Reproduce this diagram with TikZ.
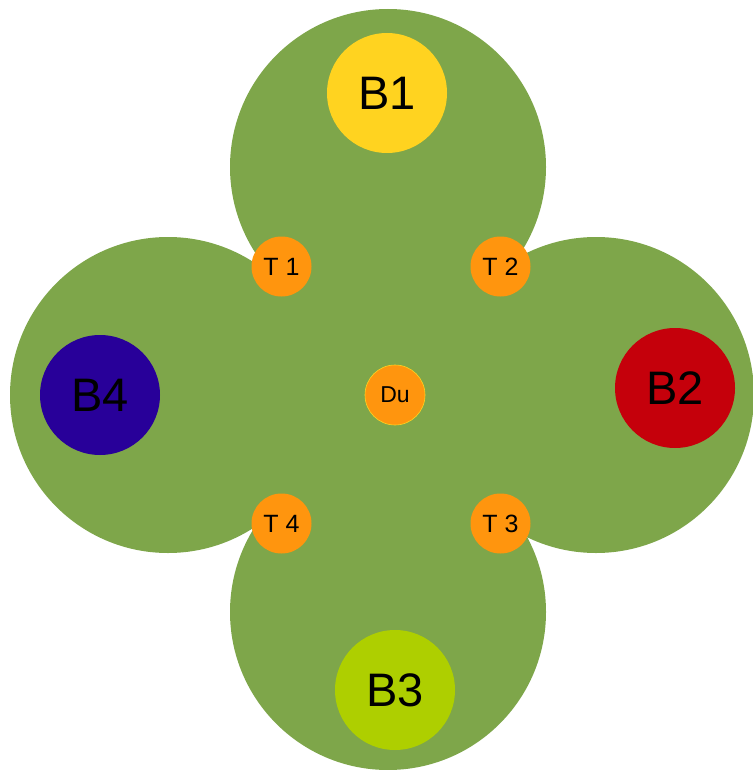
\documentclass[tikz,border=0pt]{standalone}
\usepackage{fontspec}
\setmainfont{Liberation Sans}
\definecolor{leaf}{HTML}{7EA64A}
\definecolor{bone}{HTML}{FFD320}
\definecolor{btwo}{HTML}{C5000B}
\definecolor{bthree}{HTML}{AECF00}
\definecolor{bfour}{HTML}{280099}
\definecolor{tor}{HTML}{FF950E}
\begin{document}
\begin{tikzpicture}[x=1pt,y=-1pt,
  lobe/.style={circle,fill=leaf,minimum size=316pt,inner sep=0pt},
  bnode/.style={circle,minimum size=120pt,inner sep=0pt,font=\fontsize{47}{47}\selectfont},
  tnode/.style={circle,fill=tor,minimum size=60pt,inner sep=0pt,font=\fontsize{25}{25}\selectfont}]
\useasboundingbox (0,0) rectangle (752,770);
\node[lobe] (lt) at (388,167) {};
\node[lobe] (lr) at (596,395) {};
\node[lobe] (lb) at (388,612) {};
\node[lobe] (ll) at (168,395) {};
\fill[leaf] (281,266) rectangle (501,524);
\node[bnode,fill=bone] (b1) at (387,93) {B1};
\node[bnode,fill=btwo] (b2) at (675,388) {B2};
\node[bnode,fill=bthree] (b3) at (395,690) {B3};
\node[bnode,fill=bfour] (b4) at (100,395) {B4};
\node[tnode] (t1) at (281.5,266.5) {T 1};
\node[tnode] (t2) at (500.5,266.5) {T 2};
\node[tnode] (t3) at (500.5,523.5) {T 3};
\node[tnode] (t4) at (281.5,523.5) {T 4};
\node[tnode,draw=bone,line width=0.6pt,font=\fontsize{23}{23}\selectfont] (du) at (395,395) {Du};
\end{tikzpicture}
\end{document}
